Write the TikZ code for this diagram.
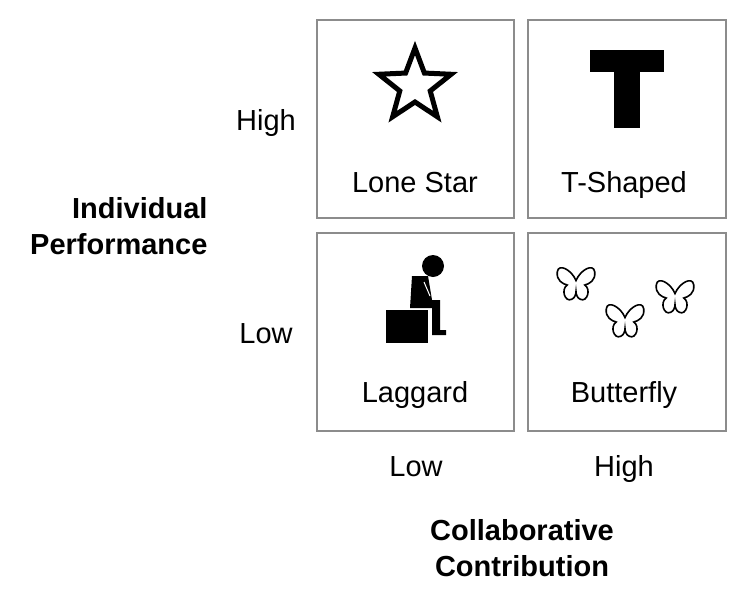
\documentclass[tikz,border=0pt]{standalone}
\usepackage{fontspec}
\setmainfont{Liberation Sans}
\begin{document}
\begin{tikzpicture}[x=1pt,y=-1pt,
  cell/.style={draw=black!45,line width=2pt},
  lbl/.style={font=\fontsize{29}{32}\selectfont,anchor=base},
  axis/.style={font=\bfseries\fontsize{29}{36}\selectfont,align=center},
  bfly/.style={draw=black,line width=1.6pt,fill=white}]
\useasboundingbox (0,0) rectangle (753,600);
\draw[cell] (317,20) rectangle (514,218);
\draw[cell] (528,20) rectangle (726,218);
\draw[cell] (317,233) rectangle (514,431);
\draw[cell] (528,233) rectangle (726,431);
\node[lbl] (ls) at (415,192) {Lone Star};
\node[lbl] (ts) at (624,192) {T-Shaped};
\node[lbl] (lg) at (415,402) {Laggard};
\node[lbl] (bf) at (624,402) {Butterfly};
\node[lbl] (yh) at (266,130) {High};
\node[lbl] (yl) at (266,343) {Low};
\node[lbl] (xl) at (416,476) {Low};
\node[lbl] (xh) at (624,476) {High};
\node[axis,align=right,anchor=east] (ip) at (211,226) {Individual\\Performance};
\node[axis] (cc) at (522,548) {Collaborative\\Contribution};
% star
\draw[line width=5pt,line join=miter] (415,48)
  \foreach \i in {1,...,9} { -- ({415+ (mod(\i,2)==0 ? 38 : 16)*sin(36*\i)},{86-(mod(\i,2)==0 ? 38 : 16)*cos(36*\i)}) } -- cycle;
% T
\fill (590,50) rectangle (664,72);
\fill (614,72) rectangle (640,128);
% laggard
\fill (433,266) circle (11);
\fill (412,276) -- (428,276) -- (432,300) -- (440,300) -- (440,330) -- (446,330) -- (446,335) -- (432,335) -- (432,308) -- (410,308) -- cycle;
\fill (386,310) rectangle (428,343);
\draw[white,line width=1pt] (424,282) -- (430,296);
% butterflies
\foreach \bx/\by in {576/285,625/322,675/298}{
  \draw[bfly,shift={(\bx,\by)},scale=1.1] (0,-4)
    .. controls (4,-14) and (16,-20) .. (17,-12)
    .. controls (18,-4) and (12,-1) .. (8,0)
    .. controls (14,4) and (10,16) .. (4,13)
    .. controls (1,12) and (0,8) .. (0,6)
    .. controls (0,8) and (-1,12) .. (-4,13)
    .. controls (-10,16) and (-14,4) .. (-8,0)
    .. controls (-12,-1) and (-18,-4) .. (-17,-12)
    .. controls (-16,-20) and (-4,-14) .. (0,-4) -- cycle;
}
\end{tikzpicture}
\end{document}
